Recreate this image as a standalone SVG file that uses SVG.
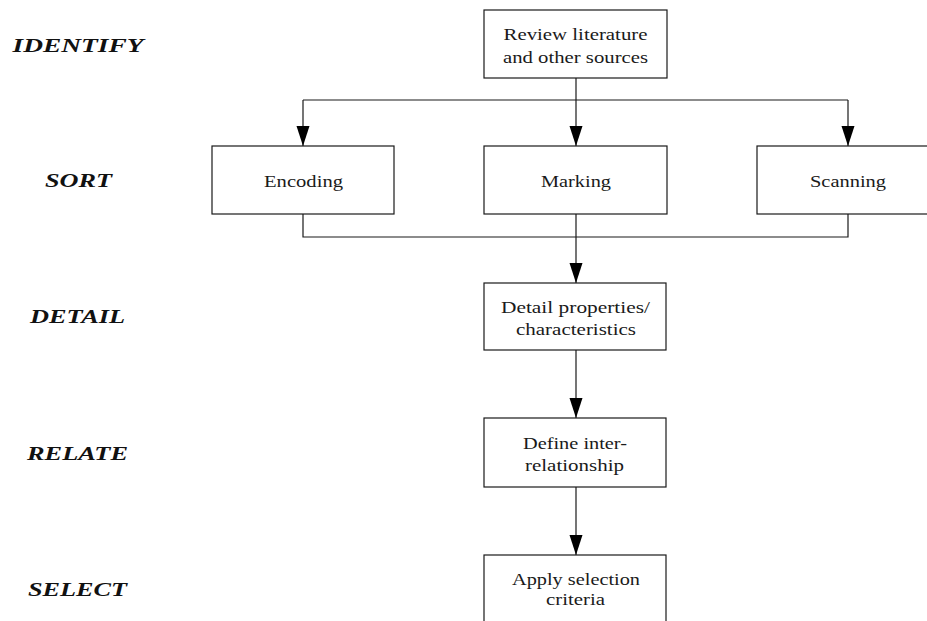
<svg xmlns="http://www.w3.org/2000/svg" width="927" height="621" viewBox="0 0 927 621">
  <style>
    .box { fill: #ffffff; stroke: #1a1a1a; stroke-width: 1.2; }
    .wire { fill: none; stroke: #1a1a1a; stroke-width: 1.2; }
    .txt { font-family: "Liberation Serif", "DejaVu Serif", serif; font-size: 17.5px; fill: #1a1a1a; text-anchor: middle; }
    .stage { font-family: "Liberation Serif", "DejaVu Serif", serif; font-size: 19px; font-weight: bold; font-style: italic; fill: #111111; text-anchor: middle; }
  </style>
  <defs>
    <marker id="arrow" markerUnits="userSpaceOnUse" markerWidth="20" markerHeight="14" refX="20" refY="6.5" orient="auto">
      <path d="M0,0 L20,6.5 L0,13 Z" fill="#000000"/>
    </marker>
  </defs>
  <rect width="927" height="621" fill="#ffffff"/>

  <!-- stage labels -->
  <g id="stages">
    <text class="stage" x="78" y="52" textLength="131" lengthAdjust="spacingAndGlyphs">IDENTIFY</text>
    <text class="stage" x="78.5" y="187" textLength="67" lengthAdjust="spacingAndGlyphs">SORT</text>
    <text class="stage" x="77.5" y="323" textLength="95" lengthAdjust="spacingAndGlyphs">DETAIL</text>
    <text class="stage" x="77.5" y="460" textLength="101" lengthAdjust="spacingAndGlyphs">RELATE</text>
    <text class="stage" x="77.5" y="596" textLength="99" lengthAdjust="spacingAndGlyphs">SELECT</text>
  </g>

  <!-- connectors -->
  <g id="connectors">
    <path class="wire" d="M576,78 V146" marker-end="url(#arrow)"/>
    <path class="wire" d="M303,100 H848"/>
    <path class="wire" d="M303,100 V146" marker-end="url(#arrow)"/>
    <path class="wire" d="M848,100 V146" marker-end="url(#arrow)"/>
    <path class="wire" d="M303,214 V237 H848 V214"/>
    <path class="wire" d="M576,214 V283" marker-end="url(#arrow)"/>
    <path class="wire" d="M576,350 V418" marker-end="url(#arrow)"/>
    <path class="wire" d="M576,487 V555" marker-end="url(#arrow)"/>
  </g>

  <g id="review">
    <rect class="box" x="484" y="10" width="183" height="68"/>
    <text class="txt" x="575.5" y="40" textLength="144" lengthAdjust="spacingAndGlyphs">Review literature</text>
    <text class="txt" x="575.5" y="63" textLength="145" lengthAdjust="spacingAndGlyphs">and other sources</text>
  </g>

  <g id="encoding">
    <rect class="box" x="212" y="146" width="182" height="68"/>
    <text class="txt" x="303.5" y="187" textLength="79" lengthAdjust="spacingAndGlyphs">Encoding</text>
  </g>

  <g id="marking">
    <rect class="box" x="484" y="146" width="183" height="68"/>
    <text class="txt" x="576" y="187" textLength="70" lengthAdjust="spacingAndGlyphs">Marking</text>
  </g>

  <g id="scanning">
    <rect class="box" x="757" y="146" width="182" height="68"/>
    <text class="txt" x="848" y="187" textLength="76" lengthAdjust="spacingAndGlyphs">Scanning</text>
  </g>

  <g id="detail">
    <rect class="box" x="484" y="283" width="182" height="67"/>
    <text class="txt" x="575.5" y="313" textLength="149" lengthAdjust="spacingAndGlyphs">Detail properties/</text>
    <text class="txt" x="576" y="335" textLength="120" lengthAdjust="spacingAndGlyphs">characteristics</text>
  </g>

  <g id="relate">
    <rect class="box" x="484" y="418" width="182" height="69"/>
    <text class="txt" x="575" y="449" textLength="104" lengthAdjust="spacingAndGlyphs">Define inter-</text>
    <text class="txt" x="574.5" y="471" textLength="99" lengthAdjust="spacingAndGlyphs">relationship</text>
  </g>

  <g id="select">
    <rect class="box" x="484" y="555" width="182" height="90"/>
    <text class="txt" x="576" y="585" textLength="128" lengthAdjust="spacingAndGlyphs">Apply selection</text>
    <text class="txt" x="575.5" y="605" textLength="59" lengthAdjust="spacingAndGlyphs">criteria</text>
  </g>
</svg>
